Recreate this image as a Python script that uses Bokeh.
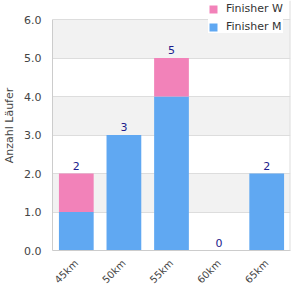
from math import pi
from bokeh.plotting import figure
from bokeh.models import (ColumnDataSource, Legend, LegendItem, Range1d, FixedTicker,
                          CustomJSTickFormatter, Span)
from bokeh.embed import file_html
from bokeh.resources import INLINE
from bokeh.core.properties import value

categories = ["45km", "50km", "55km", "60km", "65km"]
finisher_m = [1, 3, 4, 0, 2]
finisher_w = [1, 0, 1, 0, 0]
totals = [m + w for m, w in zip(finisher_m, finisher_w)]
y_ticks = [0, 1, 2, 3, 4, 5, 6]
y_max = 6

src = ColumnDataSource(dict(cat=categories, m=finisher_m, w=finisher_w,
                            total=totals, label=[str(t) for t in totals]))

p = figure(width=300, height=300, x_range=categories,
           y_range=Range1d(0, y_max + 19 / 38.5),
           output_backend="svg", toolbar_location=None,
           min_border_left=50, min_border_right=10, min_border_top=0, min_border_bottom=50)

r = p.vbar_stack(["m", "w"], x="cat", width=0.73, source=src,
                 color=["#60a8f2", "#f282b9"], line_color=None)

p.text(x="cat", y="total", text="label", source=src, text_align="center",
       text_baseline="bottom", y_offset=-4, text_font_size="11px",
       text_color="#1c1c8c", text_font=value("DejaVu Sans"))

# right border of the plot area
p.add_layout(Span(location=len(categories), dimension="height",
                  line_color="#dddddd", line_width=2))

p.yaxis.ticker = FixedTicker(ticks=y_ticks)
p.yaxis.formatter = CustomJSTickFormatter(code="return tick.toFixed(1);")
p.yaxis.bounds = (0, y_max)
p.yaxis.axis_label = "Anzahl Läufer"
p.yaxis.axis_label_text_font_style = "normal"
p.yaxis.axis_label_text_font_size = "11px"
p.yaxis.axis_label_text_color = "#444444"
p.yaxis.axis_label_text_font = "DejaVu Sans"

for ax in (p.xaxis, p.yaxis):
    ax.major_tick_line_color = None
    ax.minor_tick_line_color = None
    ax.axis_line_color = "#cccccc"
    ax.major_label_text_font = "DejaVu Sans"
    ax.major_label_text_color = "#444444"

p.yaxis.major_label_text_font_size = "11px"
p.xaxis.major_label_text_font_size = "10px"
p.xaxis.major_label_orientation = pi / 4
p.xaxis.major_label_text_align = "right"

p.xgrid.grid_line_color = None
p.ygrid.grid_line_color = "#dddddd"
p.ygrid.band_fill_color = "#f2f2f2"
p.ygrid.band_fill_alpha = 1.0
p.ygrid.bounds = (0, y_max)
p.outline_line_color = None
p.x_range.range_padding = 0

legend = Legend(items=[LegendItem(label="Finisher W", renderers=[r[1]]),
                       LegendItem(label="Finisher M", renderers=[r[0]])],
                location=(156, 217), background_fill_alpha=1.0,
                border_line_color=None, label_text_font_size="11px",
                label_text_font="DejaVu Sans", label_text_color="#333333",
                glyph_width=10, glyph_height=10, spacing=5, padding=4,
                label_standoff=8, margin=0)
p.add_layout(legend, "center")

open("out.html", "w").write(file_html(p, INLINE))
